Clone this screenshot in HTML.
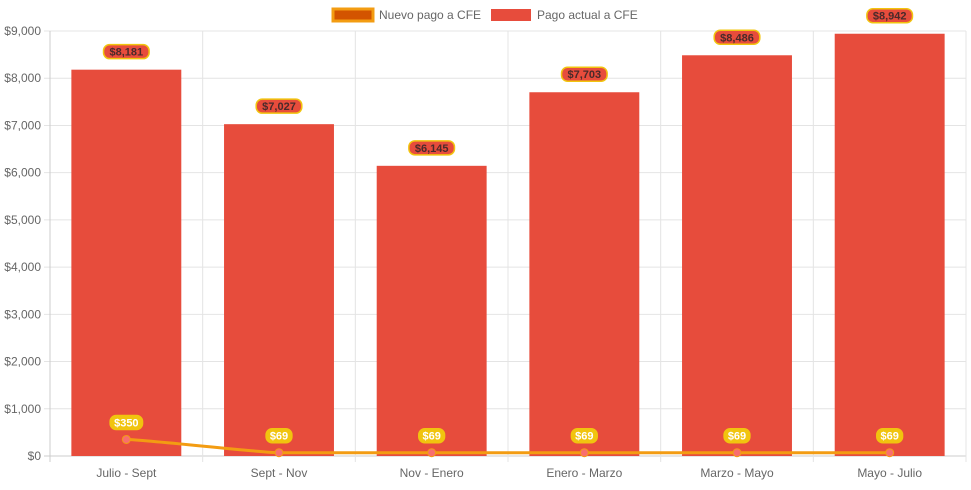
<!DOCTYPE html>
<html><head><meta charset="utf-8"><style>
body{margin:0;background:#fff;font-family:"Liberation Sans",sans-serif}
svg text{font-family:"Liberation Sans",sans-serif}
</style></head><body>
<svg id="c" width="971" height="485"></svg>
<script>
const categories=["Julio - Sept","Sept - Nov","Nov - Enero","Enero - Marzo","Marzo - Mayo","Mayo - Julio"];
const pagoActual=[8181,7027,6145,7703,8486,8942];
const nuevoPago=[350,69,69,69,69,69];
const yTicks=[0,1000,2000,3000,4000,5000,6000,7000,8000,9000];
const NS="http://www.w3.org/2000/svg";
const svg=document.getElementById('c');
const X0=50,X1=966,Y0=456,Y1=31,YMAX=9000;
const cw=(X1-X0)/categories.length;
const xc=i=>X0+cw*(i+0.5);
const y=v=>Y0-(v/YMAX)*(Y0-Y1);
function mk(t,a,p){const e=document.createElementNS(NS,t);for(const k in a)e.setAttribute(k,a[k]);(p||svg).appendChild(e);return e;}
const fmt=v=>'$'+v.toLocaleString('en-US');
yTicks.forEach(v=>{
 const l=mk('line',{x1:X0-6,x2:X1,y1:y(v),y2:y(v),stroke:v===0?'#ccc':'#e4e4e4'});
 
 
 const t=mk('text',{x:X0-9,y:y(v)+4,'text-anchor':'end','font-size':12,fill:'#666'});
 t.textContent=fmt(v);
 
 
});
for(let i=0;i<=categories.length;i++){
 const l=mk('line',{x1:X0+cw*i,x2:X0+cw*i,y1:Y1,y2:Y0+6,stroke:i===0?'#ccc':'#e4e4e4'});
 
 
}
categories.forEach((c,i)=>{
 const t=mk('text',{x:xc(i),y:477,'text-anchor':'middle','font-size':12,fill:'#666'});
 t.textContent=c;
 
 
});
const bw=cw*0.72;
pagoActual.forEach((v,i)=>{
 const r=mk('rect',{x:xc(i)-bw/2,y:y(v),width:bw,height:Y0-y(v),fill:'#e74c3c'});
 
 
});
const pts=nuevoPago.map((v,i)=>[xc(i),y(v)]);
let d='M'+pts[0];
for(let i=1;i<pts.length;i++){const p=pts[i-1],q=pts[i],dx=(q[0]-p[0])*0.12;d+=` C${p[0]+dx},${p[1]} ${q[0]-dx},${q[1]} ${q[0]},${q[1]}`;}
const ln=mk('path',{d:d,fill:'none',stroke:'#f39c12','stroke-width':3});


pts.forEach(p=>{
 const c=mk('circle',{cx:p[0],cy:p[1],r:4,fill:'#f86e6e',stroke:'#f39c12','stroke-width':1});
 
 
});
function label(x,cy,txt,bg,border,color,name){
 const w=txt.length*6.6+6;
 const g=mk('g',{});
 
 
 mk('rect',{x:x-w/2,y:cy-7,width:w,height:14,rx:6,fill:bg,stroke:border,'stroke-width':1.5},g);
 const t=mk('text',{x:x,y:cy+4,'text-anchor':'middle','font-size':11,'font-weight':'bold',fill:color},g);
 t.textContent=txt;
}
pagoActual.forEach((v,i)=>label(xc(i),y(v)-18,fmt(v),'#e74c3c','#f1c40f','#4a2a2a','bar-value-label'));
nuevoPago.forEach((v,i)=>label(xc(i),y(v)-17,fmt(v),'#f1c40f','#f1c40f','#fff','line-value-label'));
const lg=mk('g',{});


const l1=mk('g',{},lg);


mk('rect',{x:333,y:9,width:40,height:12,fill:'#d35400',stroke:'#f39c12','stroke-width':3},l1);
const t1=mk('text',{x:379,y:19,'font-size':12,fill:'#666'},l1);t1.textContent='Nuevo pago a CFE';
const l2=mk('g',{},lg);


mk('rect',{x:491,y:9,width:40,height:12,fill:'#e74c3c'},l2);
const t2=mk('text',{x:537,y:19,'font-size':12,fill:'#666'},l2);t2.textContent='Pago actual a CFE';
</script>
</body></html>
